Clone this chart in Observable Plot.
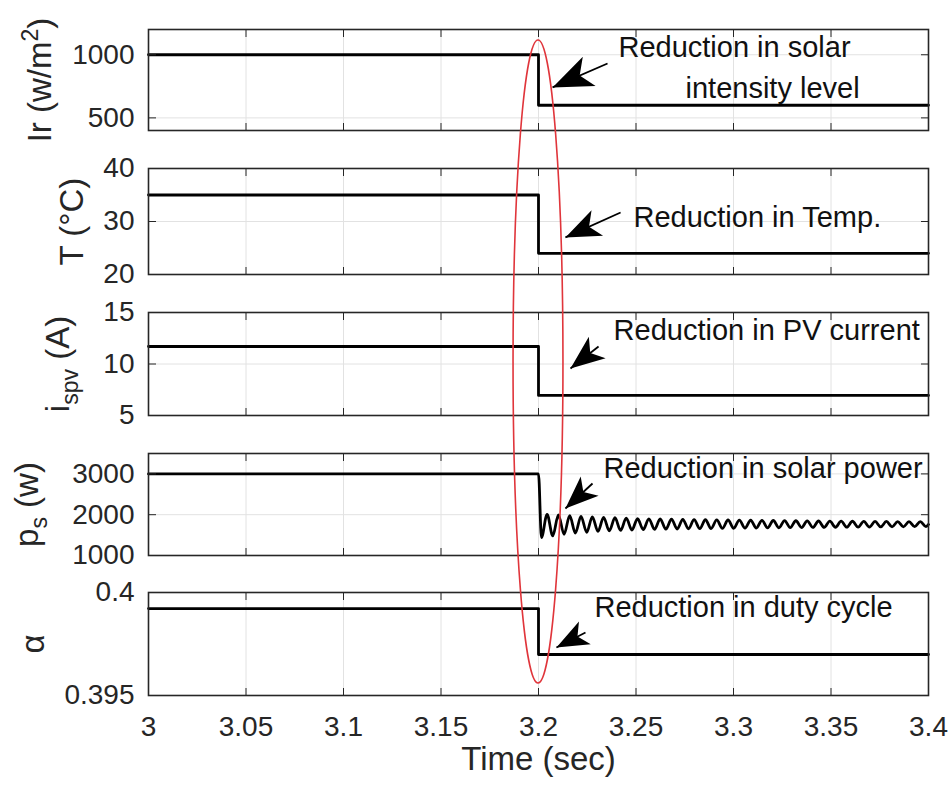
<!DOCTYPE html>
<html><head><meta charset="utf-8">
<script src="https://cdn.jsdelivr.net/npm/d3@7"></script>
<script src="https://cdn.jsdelivr.net/npm/@observablehq/plot@0.6"></script>
<style>
html,body{margin:0;padding:0;background:#fff;}
#wrap{position:relative;width:949px;height:794px;overflow:hidden;background:#fff;}
#wrap svg{position:absolute;left:0;overflow:visible;}
</style></head><body><div id="wrap"></div>
<script>
// ---------------- data ----------------
const xTicks = [3, 3.05, 3.1, 3.15, 3.2, 3.25, 3.3, 3.35, 3.4];
const xLabel = "Time (sec)";

const stepTime = [3, 3.2, 3.4];
const irValue = [1000, 600, 600];
const tempValue = [35, 24, 24];
const currentValue = [11.7, 6.95, 6.95];
const dutyValue = [0.39922, 0.39699, 0.39699];

const psTime = [3, 3.2,
  3.2015, 3.2044, 3.2073, 3.2102, 3.2131, 3.2160, 3.2189, 3.2218, 3.2247, 3.2276,
  3.2305, 3.2334, 3.2363, 3.2392, 3.2421, 3.2450, 3.2479, 3.2508, 3.2537, 3.2566,
  3.2595, 3.2624, 3.2653, 3.2682, 3.2711, 3.2740, 3.2769, 3.2798, 3.2827, 3.2856,
  3.2885, 3.2914, 3.2943, 3.2972, 3.3001, 3.3030, 3.3059, 3.3088, 3.3117, 3.3146,
  3.3175, 3.3204, 3.3233, 3.3262, 3.3291, 3.3320, 3.3349, 3.3378, 3.3407, 3.3436,
  3.3465, 3.3494, 3.3523, 3.3552, 3.3581, 3.3610, 3.3639, 3.3668, 3.3697, 3.3726,
  3.3755, 3.3784, 3.3813, 3.3842, 3.3871, 3.3900, 3.3929, 3.3958, 3.3987, 3.4];
const psValue = [3000, 3000,
  1440, 2010, 1480, 1995, 1520, 1975, 1550, 1960, 1570, 1945,
  1590, 1935, 1605, 1925, 1615, 1915, 1625, 1905, 1635, 1900,
  1640, 1895, 1645, 1890, 1650, 1885, 1655, 1880, 1658, 1876,
  1661, 1873, 1664, 1870, 1667, 1867, 1670, 1864, 1673, 1861,
  1676, 1858, 1679, 1855, 1682, 1852, 1685, 1849, 1688, 1846,
  1690, 1844, 1692, 1842, 1694, 1840, 1696, 1838, 1698, 1836,
  1700, 1834, 1702, 1832, 1704, 1830, 1706, 1828, 1708, 1760];

const irTicks = [500, 1000];
const tempTicks = [20, 30, 40];
const currentTicks = [5, 10, 15];
const powerTicks = [1000, 2000, 3000];
const dutyTicks = [0.395, 0.4];

const irDomain = [400, 1200];
const tempDomain = [20, 40];
const currentDomain = [5, 15];
const powerDomain = [1000, 3500];
const dutyDomain = [0.395, 0.4];

const irNoteText = ["Reduction in solar", "intensity level"];
const irNoteT = [3.2410, 3.2754];
const irNoteV = [1057, 733];
const tempNoteText = ["Reduction in Temp."];
const tempNoteT = [3.2487];
const tempNoteV = [30.75];
const currentNoteText = ["Reduction in PV current"];
const currentNoteT = [3.2385];
const currentNoteV = [13.25];
const powerNoteText = ["Reduction in solar power"];
const powerNoteT = [3.2333];
const powerNoteV = [3132];
const dutyNoteText = ["Reduction in duty cycle"];
const dutyNoteT = [3.2287];
const dutyNoteV = [0.39927];

// arrows: [tail, tip]
const irArrowT = [3.2354, 3.2072];   const irArrowV = [931, 741];
const tempArrowT = [3.2421, 3.2138]; const tempArrowV = [31.7, 27.0];
const currentArrowT = [3.2308, 3.2164]; const currentArrowV = [11.7, 9.56];
const powerArrowT = [3.2277, 3.2138]; const powerArrowV = [2765, 2152];
const dutyArrowT = [3.2241, 3.2092]; const dutyArrowV = [0.39806, 0.39733];

// red ellipse: centre time, half width in time, top (panel 1 value) and bottom (panel 5 value)
const ellipseT = 3.2;
const ellipseHalfT = 0.0128;
const ellipseTopV = 1113;
const ellipseBottomV = 0.39558;

// ---------------- layout ----------------
const W = 949, ML = 148, MR = 21;
const FONT = '"Liberation Sans", Arial, Helvetica, sans-serif';
const AX = "#262626";

const panels = [
  {top: 29, h: 101, domain: irDomain, ticks: irTicks, time: stepTime, values: irValue, curve: "step-after",
   label: "Ir (w/m2)", labelDx: -108, noteText: irNoteText, noteT: irNoteT, noteV: irNoteV,
   arrowT: irArrowT, arrowV: irArrowV, head: 40},
  {top: 168, h: 106, domain: tempDomain, ticks: tempTicks, time: stepTime, values: tempValue, curve: "step-after",
   label: "T (°C)", labelDx: -76, noteText: tempNoteText, noteT: tempNoteT, noteV: tempNoteV,
   arrowT: tempArrowT, arrowV: tempArrowV, head: 35},
  {top: 312, h: 103, domain: currentDomain, ticks: currentTicks, time: stepTime, values: currentValue, curve: "step-after",
   label: "ispv (A)", labelDx: -90, noteText: currentNoteText, noteT: currentNoteT, noteV: currentNoteV,
   arrowT: currentArrowT, arrowV: currentArrowV, head: 34},
  {top: 453, h: 102, domain: powerDomain, ticks: powerTicks, time: psTime, values: psValue, curve: "monotone-x",
   label: "ps (w)", labelDx: -121, noteText: powerNoteText, noteT: powerNoteT, noteV: powerNoteV,
   arrowT: powerArrowT, arrowV: powerArrowV, head: 33},
  {top: 592, h: 103, domain: dutyDomain, ticks: dutyTicks, time: stepTime, values: dutyValue, curve: "step-after",
   label: "α", labelDx: -115, noteText: dutyNoteText, noteT: dutyNoteT, noteV: dutyNoteV,
   arrowT: dutyArrowT, arrowV: dutyArrowV, head: 32}
];

// swallow-tail filled arrow head, tip at origin pointing up
const arrowHead = {
  draw(ctx, size) {
    const L = Math.sqrt(size / Math.PI);
    ctx.moveTo(0, 0);
    ctx.lineTo(0.4 * L, L);
    ctx.lineTo(0, 0.74 * L);
    ctx.lineTo(-0.4 * L, L);
    ctx.closePath();
  }
};

const wrap = document.getElementById("wrap");
const plots = [];
const MT = 12;

panels.forEach((p, idx) => {
  const isLast = idx === panels.length - 1;
  const mb = isLast ? 99 : 12;
  const height = MT + p.h + mb;
  const innerW = W - ML - MR;
  const line = p.time.map((t, i) => ({t, v: p.values[i]}));
  const notes = p.noteText.map((s, i) => ({s, t: p.noteT[i], v: p.noteV[i]}));
  const arrow = [{t1: p.arrowT[0], v1: p.arrowV[0], t2: p.arrowT[1], v2: p.arrowV[1]}];
  const dxp = (p.arrowT[1] - p.arrowT[0]) / (xTicks[xTicks.length - 1] - xTicks[0]) * innerW;
  const dyp = -(p.arrowV[1] - p.arrowV[0]) / (p.domain[1] - p.domain[0]) * p.h;
  const ang = Math.atan2(dxp, -dyp) * 180 / Math.PI;

  const marks = [
    Plot.gridX(xTicks, {stroke: "#e2e2e2", strokeOpacity: 1, strokeWidth: 1}),
    Plot.gridY(p.ticks, {stroke: "#e2e2e2", strokeOpacity: 1, strokeWidth: 1}),
    Plot.line(line, {x: "t", y: "v", curve: p.curve, stroke: "#000", strokeWidth: 2.8}),
    Plot.frame({stroke: AX, strokeWidth: 1.6}),
    Plot.axisX(xTicks, {anchor: "bottom", tickSize: 7, dy: -7, fill: "none", stroke: AX, label: null}),
    Plot.axisX(xTicks, {anchor: "top", tickSize: 7, dy: 7, fill: "none", stroke: AX, label: null}),
    Plot.axisY(p.ticks, {anchor: "left", tickSize: 8, dx: 8, fill: "none", stroke: AX, label: null}),
    Plot.axisY(p.ticks, {anchor: "right", tickSize: 8, dx: -8, fill: "none", stroke: AX, label: null}),
    Plot.axisY(p.ticks, {anchor: "left", tickSize: 0, tickPadding: 14, tickFormat: d => String(d),
      fontSize: 28, fill: AX, label: null}),
    Plot.text([p.label], {text: d => d, frameAnchor: "left", textAnchor: "middle", lineAnchor: "middle",
      dx: p.labelDx, rotate: -90, fontSize: 33, fill: AX}),
    Plot.text(notes, {x: "t", y: "v", text: "s", textAnchor: "start", fontSize: 29, fill: "#111"}),
    Plot.link(arrow, {x1: "t1", y1: "v1", x2: "t2", y2: "v2", stroke: "#000", strokeWidth: 1.8}),
    Plot.dot(arrow, {x: "t2", y: "v2", symbol: arrowHead, r: p.head, rotate: ang, fill: "#000", stroke: "none"})
  ];
  if (isLast) {
    marks.push(Plot.axisX(xTicks, {anchor: "bottom", tickSize: 0, tickPadding: 21, tickFormat: d => String(d),
      fontSize: 28, fill: AX, label: null}));
    marks.push(Plot.text([xLabel], {text: d => d, frameAnchor: "bottom", lineAnchor: "middle", dy: 64,
      fontSize: 33, fill: AX}));
  }

  const plot = Plot.plot({
    width: W, height,
    marginLeft: ML, marginRight: MR, marginTop: MT, marginBottom: mb,
    x: {domain: [xTicks[0], xTicks[xTicks.length - 1]]},
    y: {domain: p.domain},
    style: {fontFamily: FONT, fontSize: "28px", color: AX, background: "transparent", overflow: "visible"},
    marks
  });
  plot.style.top = (p.top - MT) + "px";
  wrap.appendChild(plot);
  plots.push(plot);

  // super/subscripts in y label
  const lab = p.label;
  let parts = null;
  if (lab === "Ir (w/m2)") parts = [["Ir (w/m", 0], ["2", -1], [")", 0]];
  else if (lab === "ispv (A)") parts = [["i", 0], ["spv", 1], [" (A)", 0]];
  else if (lab === "ps (w)") parts = [["p", 0], ["s", 1], [" (w)", 0]];
  if (parts) {
    d3.select(plot).selectAll("text").filter(function() { return this.textContent === lab; }).each(function() {
      const t = d3.select(this);
      t.text(null);
      let prev = 0;
      parts.forEach(([s, k]) => {
        const shift = k === -1 ? -13 : k === 1 ? 9 : 0;
        const ts = t.append("tspan").text(s).attr("dy", shift - prev);
        if (k !== 0) ts.attr("font-size", 23);
        prev = shift;
      });
    });
  }
});

// red ellipse overlay, positioned with the panels' scales
const sx = plots[0].scale("x");
const yTop = panels[0].top - MT + plots[0].scale("y").apply(ellipseTopV);
const yBot = panels[4].top - MT + plots[4].scale("y").apply(ellipseBottomV);
const cx = sx.apply(ellipseT);
const rx = sx.apply(ellipseT + ellipseHalfT) - cx;
const overlay = d3.select(wrap).append("svg")
  .attr("width", W).attr("height", 794)
  .style("top", "0px").style("pointer-events", "none");
overlay.append("ellipse")
  .attr("cx", cx).attr("cy", (yTop + yBot) / 2)
  .attr("rx", rx).attr("ry", (yBot - yTop) / 2)
  .attr("fill", "none").attr("stroke", "#e0353b").attr("stroke-width", 1.6);
</script></body></html>
